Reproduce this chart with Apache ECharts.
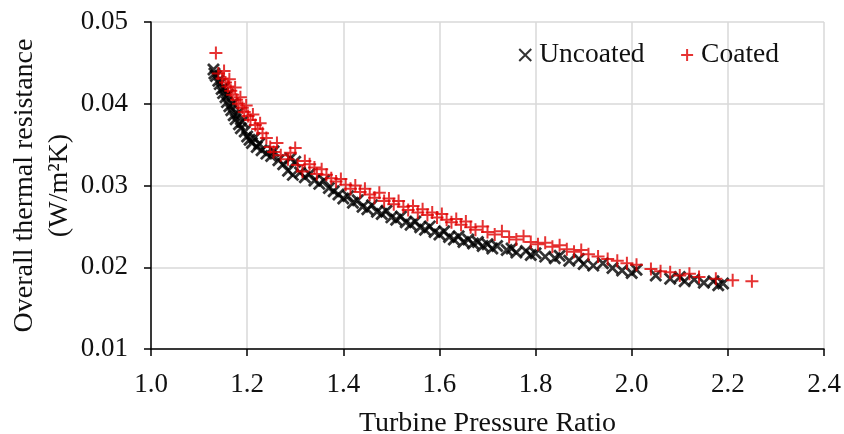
<!DOCTYPE html>
<html>
<head>
<meta charset="utf-8">
<script src="https://cdn.jsdelivr.net/npm/echarts@6/dist/echarts.min.js"></script>
<style>
  html, body { margin: 0; padding: 0; background: #fff; }
  #chart { width: 844px; height: 434px; }
</style>
</head>
<body>
<div id="chart"></div>
<script>
// turbine pressure ratio / overall thermal resistance
var uncoatedX = [
  1.130, 1.132, 1.135, 1.140, 1.143, 1.147, 1.150, 1.152, 1.155, 1.158,
  1.160, 1.163, 1.167, 1.170, 1.172, 1.176, 1.180, 1.183, 1.187, 1.190,
  1.195, 1.200, 1.205, 1.210, 1.215, 1.220, 1.225, 1.230, 1.240, 1.250,
  1.255, 1.265, 1.275, 1.285, 1.290, 1.295, 1.300, 1.310, 1.320, 1.330,
  1.340, 1.350, 1.360, 1.370, 1.380, 1.390, 1.400, 1.410, 1.420, 1.430,
  1.440, 1.450, 1.460, 1.470, 1.480, 1.490, 1.500, 1.510, 1.520, 1.530,
  1.540, 1.550, 1.560, 1.570, 1.580, 1.590, 1.600, 1.610, 1.620, 1.630,
  1.640, 1.650, 1.660, 1.670, 1.680, 1.690, 1.700, 1.710, 1.720, 1.740,
  1.750, 1.760, 1.780, 1.790, 1.800, 1.820, 1.840, 1.850, 1.870, 1.890,
  1.900, 1.920, 1.940, 1.960, 1.980, 2.000, 2.010, 2.050, 2.080, 2.100,
  2.110, 2.130, 2.150, 2.170, 2.180, 2.190
]
var uncoatedY = [
  0.0442, 0.0437, 0.0434, 0.0428, 0.0424, 0.0418, 0.0413, 0.0420, 0.0408, 0.0402,
  0.0411, 0.0397, 0.0392, 0.0400, 0.0386, 0.0381, 0.0388, 0.0375, 0.0370, 0.0378,
  0.0366, 0.0360, 0.0356, 0.0352, 0.0358, 0.0347, 0.0351, 0.0343, 0.0339, 0.0336,
  0.0342, 0.0331, 0.0326, 0.0318, 0.0333, 0.0313, 0.0329, 0.0316, 0.0310, 0.0314,
  0.0306, 0.0302, 0.0306, 0.0297, 0.0293, 0.0289, 0.0284, 0.0287, 0.0279, 0.0282,
  0.0274, 0.0271, 0.0276, 0.0268, 0.0265, 0.0269, 0.0261, 0.0258, 0.0262, 0.0255,
  0.0252, 0.0256, 0.0249, 0.0246, 0.0250, 0.0243, 0.0240, 0.0244, 0.0237, 0.0234,
  0.0238, 0.0231, 0.0234, 0.0229, 0.0231, 0.0226, 0.0228, 0.0223, 0.0226, 0.0221,
  0.0223, 0.0218, 0.0220, 0.0215, 0.0217, 0.0213, 0.0211, 0.0214, 0.0208, 0.0210,
  0.0204, 0.0202, 0.0205, 0.0199, 0.0196, 0.0193, 0.0197, 0.0190, 0.0186, 0.0188,
  0.0183, 0.0185, 0.0181, 0.0183, 0.0178, 0.0180
]
var coatedX = [
  1.135, 1.140, 1.148, 1.152, 1.155, 1.160, 1.163, 1.166, 1.170, 1.175,
  1.178, 1.182, 1.186, 1.190, 1.194, 1.198, 1.202, 1.207, 1.212, 1.217,
  1.222, 1.227, 1.232, 1.240, 1.248, 1.255, 1.262, 1.270, 1.285, 1.290,
  1.300, 1.305, 1.315, 1.320, 1.330, 1.340, 1.345, 1.355, 1.365, 1.375,
  1.385, 1.395, 1.405, 1.415, 1.425, 1.435, 1.445, 1.455, 1.465, 1.475,
  1.485, 1.495, 1.505, 1.515, 1.525, 1.535, 1.545, 1.555, 1.565, 1.575,
  1.585, 1.595, 1.605, 1.615, 1.625, 1.635, 1.645, 1.655, 1.665, 1.675,
  1.690, 1.700, 1.715, 1.730, 1.745, 1.760, 1.775, 1.790, 1.805, 1.820,
  1.835, 1.850, 1.865, 1.880, 1.895, 1.910, 1.930, 1.950, 1.970, 1.990,
  2.010, 2.040, 2.060, 2.080, 2.100, 2.120, 2.140, 2.175, 2.210, 2.250
]
var coatedY = [
  0.0462, 0.0437, 0.0431, 0.0440, 0.0426, 0.0421, 0.0430, 0.0416, 0.0411, 0.0420,
  0.0405, 0.0400, 0.0408, 0.0395, 0.0390, 0.0398, 0.0385, 0.0380, 0.0387, 0.0374,
  0.0369, 0.0376, 0.0364, 0.0358, 0.0347, 0.0341, 0.0352, 0.0337, 0.0332, 0.0340,
  0.0346, 0.0325, 0.0317, 0.0330, 0.0326, 0.0322, 0.0314, 0.0320, 0.0313, 0.0309,
  0.0305, 0.0308, 0.0301, 0.0296, 0.0300, 0.0292, 0.0296, 0.0289, 0.0285, 0.0291,
  0.0281, 0.0284, 0.0277, 0.0281, 0.0274, 0.0270, 0.0275, 0.0267, 0.0271, 0.0264,
  0.0267, 0.0261, 0.0265, 0.0258, 0.0255, 0.0259, 0.0252, 0.0256, 0.0249, 0.0246,
  0.0250, 0.0243, 0.0240, 0.0244, 0.0237, 0.0234, 0.0238, 0.0231, 0.0228, 0.0230,
  0.0225, 0.0227, 0.0222, 0.0219, 0.0221, 0.0216, 0.0213, 0.0210, 0.0208, 0.0205,
  0.0203, 0.0198, 0.0195, 0.0194, 0.0190, 0.0192, 0.0188, 0.0186, 0.0184, 0.0183
]

var pairs = (xs, ys) => xs.map((x, i) => [x, ys[i]])

var CROSS = 'path://M0,0L10,10M10,0L0,10'
var PLUS = 'path://M0,5L10,5M5,0L5,10'
var font = '"Liberation Serif", "Times New Roman", serif'
var ink = '#111'

var chart = echarts.init(document.getElementById('chart'), null, { renderer: 'canvas' })

var option = {
  backgroundColor: '#fff',
  animation: false,
  textStyle: { fontFamily: font },
  grid: { left: 151, right: 20, top: 22, bottom: 85, containLabel: false, outerBoundsMode: 'none' },
  legend: {
    right: 60,
    top: 36,
    itemGap: 34,
    itemWidth: 12,
    itemHeight: 12,
    textStyle: { fontFamily: font, fontSize: 27.5, color: ink, padding: [0, 0, 0, 3] },
    data: [
      { name: 'Uncoated', icon: CROSS, itemStyle: { color: 'none', borderColor: '#000', borderWidth: 2 } },
      { name: 'Coated', icon: PLUS, itemStyle: { color: 'none', borderColor: '#e00000', borderWidth: 2 } }
    ]
  },
  xAxis: {
    type: 'value',
    min: 1.0,
    max: 2.4,
    interval: 0.2,
    name: 'Turbine Pressure Ratio',
    nameLocation: 'middle',
    nameGap: 61,
    nameMoveOverlap: false,
    nameTextStyle: { fontFamily: font, fontSize: 28, color: ink },
    axisLine: { onZero: false, lineStyle: { color: '#000', width: 1.5 } },
    axisTick: { show: true, inside: false, length: 7, lineStyle: { color: '#000', width: 1.5 } },
    axisLabel: { fontFamily: font, fontSize: 27, color: ink, margin: 22, formatter: v => v.toFixed(1) },
    splitLine: { show: true, lineStyle: { color: '#d9d9d9', width: 1.5 } }
  },
  yAxis: {
    type: 'value',
    min: 0.01,
    max: 0.05,
    interval: 0.01,
    name: 'Overall thermal resistance\n(W/m²K)',
    nameLocation: 'middle',
    nameGap: 74,
    nameMoveOverlap: false,
    nameTextStyle: { fontFamily: font, fontSize: 28, color: ink, lineHeight: 35, align: 'center' },
    axisLine: { onZero: false, lineStyle: { color: '#000', width: 1.5 } },
    axisTick: { show: true, inside: false, length: 7, lineStyle: { color: '#000', width: 1.5 } },
    axisLabel: { fontFamily: font, fontSize: 27, color: ink, margin: 23, formatter: v => v.toFixed(2) },
    splitLine: { show: true, lineStyle: { color: '#d9d9d9', width: 1.5 } }
  },
  series: [
    {
      name: 'Uncoated',
      type: 'scatter',
      symbol: CROSS,
      symbolSize: 11,
      itemStyle: { color: 'none', borderColor: '#000', borderWidth: 2.8 },
      data: pairs(uncoatedX, uncoatedY)
    },
    {
      name: 'Coated',
      type: 'scatter',
      symbol: PLUS,
      symbolSize: 13,
      itemStyle: { color: 'none', borderColor: '#e00000', borderWidth: 2 },
      data: pairs(coatedX, coatedY)
    }
  ]
}

chart.setOption(option)
</script>
</body>
</html>
